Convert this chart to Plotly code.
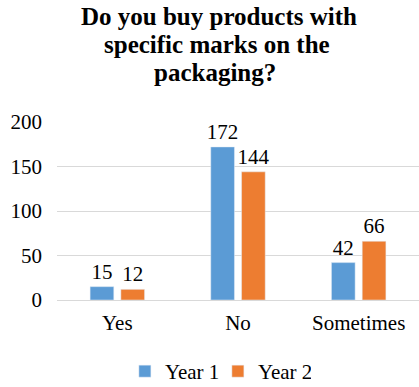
import plotly.graph_objects as go

categories = ["Yes", "No", "Sometimes"]
year1 = [15, 172, 42]
year2 = [12, 144, 66]
series_names = ["Year 1", "Year 2"]
yticks = [0, 50, 100, 150, 200]
title_lines = ["Do you buy products with", "specific marks on the", "packaging?"]

FONT = "Liberation Serif, Times New Roman, serif"
BLUE = "#5B9BD5"
ORANGE = "#ED7D31"

fig = go.Figure()
for name, vals, col in [(series_names[0], year1, BLUE), (series_names[1], year2, ORANGE)]:
    fig.add_trace(go.Bar(
        x=categories, y=vals, name=name, marker_color=col,
        text=[str(v) for v in vals], textposition="outside",
        textfont=dict(family=FONT, size=21, color="#000000"),
        constraintext="none",
        cliponaxis=False,
    ))

# title lines, placed individually to match line spacing
for line, yy, xx in zip(title_lines, [1.594, 1.437, 1.279], [0.447, 0.442, 0.436]):
    fig.add_annotation(
        text="<b>" + line + "</b>", xref="paper", yref="paper", x=xx, y=yy,
        xanchor="center", yanchor="middle", showarrow=False,
        font=dict(family=FONT, size=25, color="#000000"),
    )

fig.update_layout(
    width=419, height=387,
    margin=dict(l=57, r=0, t=122, b=87),
    paper_bgcolor="white", plot_bgcolor="white",
    font=dict(family=FONT, size=21, color="#000000"),
    barmode="group", bargap=0.49, bargroupgap=0.23,
    showlegend=True,
    legend=dict(
        orientation="h", x=0.52, xanchor="center", xref="container",
        y=0.04, yanchor="middle", yref="container",
        font=dict(family=FONT, size=21), entrywidth=48, entrywidthmode="pixels",
        traceorder="normal",
    ),
)
fig.update_yaxes(
    range=[0, 200], tickvals=yticks, showgrid=True, gridcolor="#D9D9D9", gridwidth=1,
    zeroline=True, zerolinecolor="#D9D9D9", zerolinewidth=1,
    showline=False, ticks="", ticklabelstandoff=14,
    tickfont=dict(family=FONT, size=21),
)
fig.update_xaxes(
    showline=False, ticks="", ticklabelstandoff=8,
    tickfont=dict(family=FONT, size=21),
)
fig.write_html("out.html")
